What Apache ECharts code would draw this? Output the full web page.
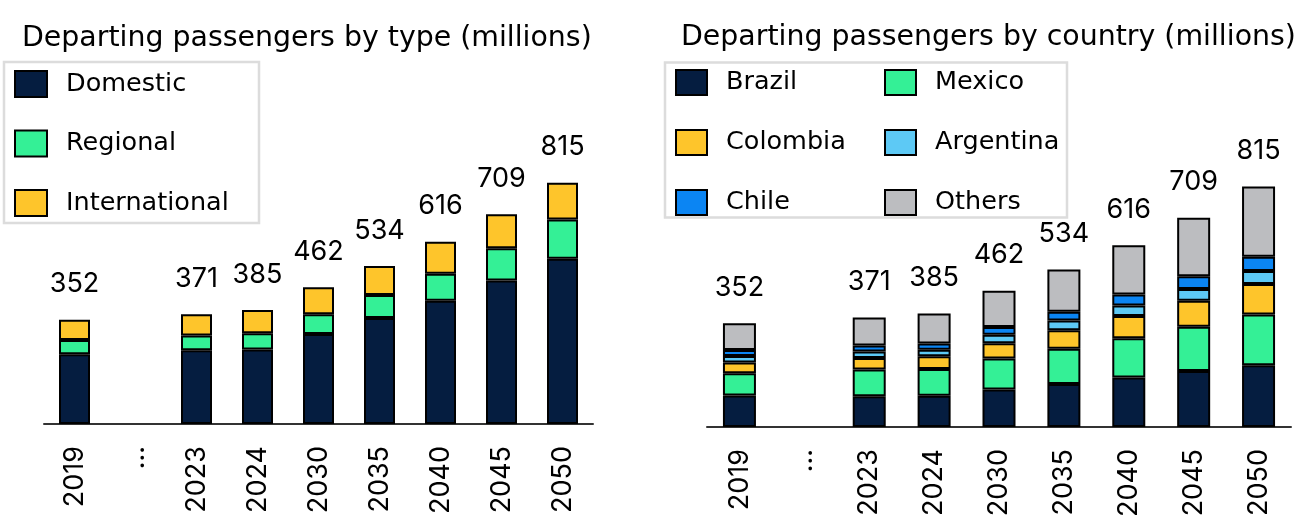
<!DOCTYPE html>
<html>
<head>
<meta charset="utf-8">
<style>
  html, body { margin: 0; padding: 0; background: #fff; }
  #chart { width: 1303px; height: 522px; }
</style>
<script src="https://cdn.jsdelivr.net/npm/echarts@6/dist/echarts.min.js"></script>
</head>
<body>
<div id="chart"></div>
<script>
// Categories shared by both panels ('...' marks the gap in the years)
const years = ['2019', '...', '2023', '2024', '2030', '2035', '2040', '2045', '2050'];

// Departing passengers by type (millions)
const domestic      = [236, null, 249, 252, 304, 358, 416, 485, 558];
const regional      = [48,  null, 50,  55,  67,  78,  92,  109, 133];
const international = [68,  null, 72,  78,  91,  98,  108, 115, 124];

// Departing passengers by country (millions)
const brazil    = [107, null, 104, 106, 127, 146, 168, 190, 209];
const mexico    = [75,  null, 91,  91,  105, 119, 133, 150, 172];
const colombia  = [37,  null, 39,  43,  52,  63,  75,  88,  104];
const argentina = [22,  null, 22,  22,  29,  33,  36,  40,  44];
const chile     = [20,  null, 20,  21,  26,  30,  37,  43,  48];
const others    = [91,  null, 95,  102, 123, 143, 167, 198, 238];

const TEXT_FONT = '"DejaVu Sans"';
const NUM_FONT = 'Inter';
const COLORS = {
  navy: '#051D40', green: '#34F096', yellow: '#FEC52B',
  lightBlue: '#5DC9F5', blue: '#0B85F3', grey: '#BCBDC0'
};

function totalsOf(list) {
  return years.map((_, i) => list[0][i] == null ? null : list.reduce((s, arr) => s + arr[i], 0));
}
const typeTotals = totalsOf([domestic, regional, international]);
const countryTotals = totalsOf([brazil, mexico, colombia, argentina, chile, others]);

function barSeries(name, data, color, axis, stack, width, totals) {
  const s = {
    name, type: 'bar', data, stack,
    xAxisIndex: axis, yAxisIndex: axis,
    barWidth: width,
    itemStyle: { color, borderColor: '#000', borderWidth: 2 },
    emphasis: { disabled: true }
  };
  if (totals) {
    s.label = {
      show: true, position: 'top', distance: 22,
      fontFamily: NUM_FONT, fontSize: 27, color: '#000',
      formatter: p => totals[p.dataIndex] == null ? '' : String(totals[p.dataIndex])
    };
  }
  return s;
}

const xAxisBase = {
  type: 'category', data: years,
  axisLine: { lineStyle: { color: '#333', width: 2 } },
  axisTick: { show: false },
  axisLabel: { rotate: 90, margin: 22, fontFamily: NUM_FONT, fontSize: 27, color: '#000', interval: 0 }
};
const yAxisBase = { type: 'value', min: 0, max: 1000, show: false, splitLine: { show: false } };

const legendBase = {
  orient: 'vertical', padding: 0, icon: 'rect',
  itemWidth: 31, itemHeight: 26,
  textStyle: { fontFamily: TEXT_FONT, fontSize: 25.5, color: '#000', lineHeight: 26, padding: [0, 0, 0, 14] },
  selectedMode: false
};

const titleStyle = { fontFamily: TEXT_FONT, fontSize: 28.4, fontWeight: 'normal', color: '#000', lineHeight: 32 };

const option = {
  animation: false,
  backgroundColor: '#fff',
  title: [
    { text: 'Departing passengers by type (millions)', left: 17, top: 18, textStyle: titleStyle },
    { text: 'Departing passengers by country (millions)', left: 676, top: 17, textStyle: titleStyle }
  ],
  graphic: [
    { type: 'rect', shape: { x: 4, y: 62, width: 255, height: 161 },
      style: { fill: 'none', stroke: '#dcdcdc', lineWidth: 2.5 }, silent: true },
    { type: 'rect', shape: { x: 665, y: 62.5, width: 402, height: 155 },
      style: { fill: 'none', stroke: '#dcdcdc', lineWidth: 2.5 }, silent: true }
  ],
  legend: [
    Object.assign({}, legendBase, { left: 14, top: 70, itemGap: 31.5, itemWidth: 32,
      data: ['Domestic', 'Regional', 'International'] }),
    Object.assign({}, legendBase, { left: 675, top: 69, itemGap: 33, itemHeight: 25,
      data: ['Brazil', 'Colombia', 'Chile'] }),
    Object.assign({}, legendBase, { left: 884, top: 69, itemGap: 33, itemHeight: 25,
      data: ['Mexico', 'Argentina', 'Others'] })
  ],
  grid: [
    { left: 44, width: 549, top: 128, bottom: 98, containLabel: false },
    { left: 707, width: 584, top: 132, bottom: 95, containLabel: false }
  ],
  xAxis: [
    Object.assign({ gridIndex: 0 }, xAxisBase),
    Object.assign({ gridIndex: 1 }, xAxisBase)
  ],
  yAxis: [
    Object.assign({ gridIndex: 0 }, yAxisBase),
    Object.assign({ gridIndex: 1 }, yAxisBase)
  ],
  series: [
    barSeries('Domestic', domestic, COLORS.navy, 0, 'type', 31),
    barSeries('Regional', regional, COLORS.green, 0, 'type', 31),
    barSeries('International', international, COLORS.yellow, 0, 'type', 31, typeTotals),

    barSeries('Brazil', brazil, COLORS.navy, 1, 'country', 33),
    barSeries('Mexico', mexico, COLORS.green, 1, 'country', 33),
    barSeries('Colombia', colombia, COLORS.yellow, 1, 'country', 33),
    barSeries('Argentina', argentina, COLORS.lightBlue, 1, 'country', 33),
    barSeries('Chile', chile, COLORS.blue, 1, 'country', 33),
    barSeries('Others', others, COLORS.grey, 1, 'country', 33, countryTotals)
  ]
};

const chart = echarts.init(document.getElementById('chart'), null, { renderer: 'canvas' });
chart.setOption(option);
</script>
</body>
</html>
